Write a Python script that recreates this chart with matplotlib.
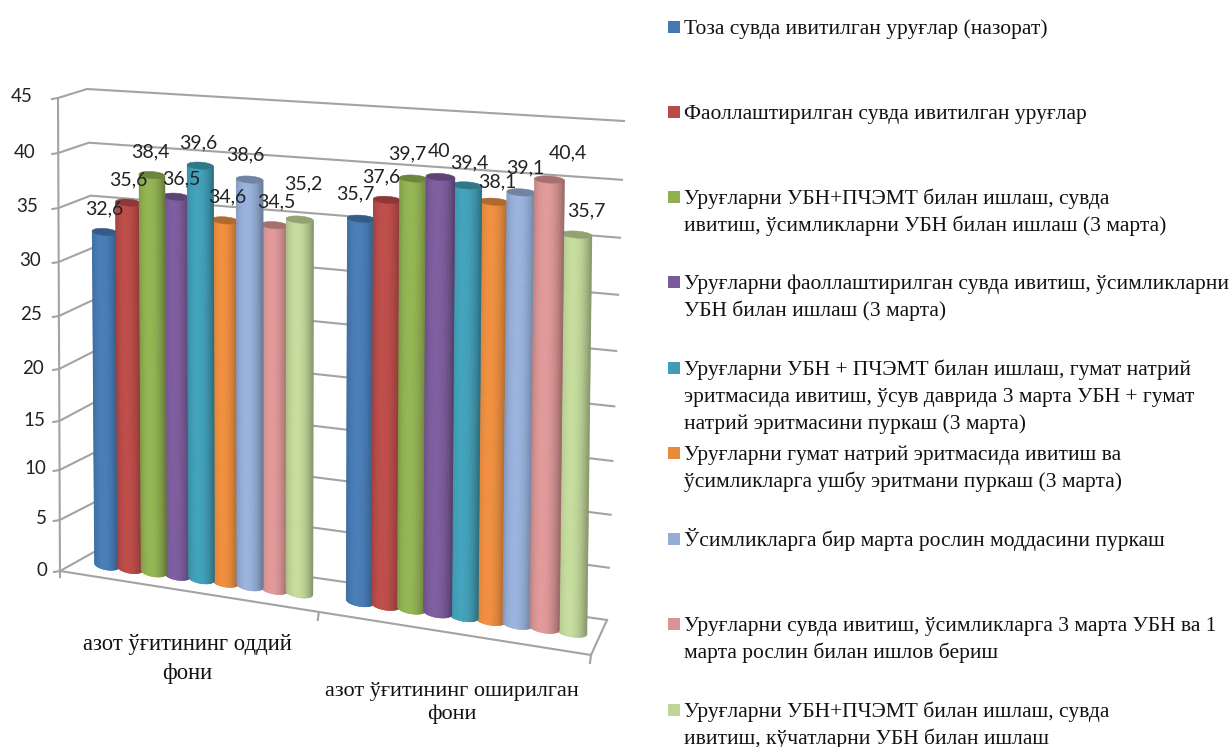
import numpy as np
import matplotlib
matplotlib.use("Agg")
import matplotlib.pyplot as plt
from matplotlib.collections import PolyCollection
from matplotlib.colors import to_rgb
from matplotlib.patches import Polygon, Rectangle

# ---- data ----
group_labels = ["азот ўғитининг оддий\nфони", "азот ўғитининг оширилган\nфони"]
group1 = [32.6, 35.6, 38.4, 36.5, 39.6, 34.6, 38.6, 34.5, 35.2]
group2 = [35.7, 37.6, 39.7, 40, 39.4, 38.1, 39.1, 40.4, 35.7]
y_ticks = [0, 5, 10, 15, 20, 25, 30, 35, 40, 45]
colors = ["#4679B2", "#B84A47", "#8FAF50", "#7A5A9A", "#3F9DB5",
          "#E88A3C", "#94ACD6", "#D99493", "#BFD597"]
series_names = [
    "Тоза сувда ивитилган уруғлар (назорат)",
    "Фаоллаштирилган сувда ивитилган уруғлар",
    "Уруғларни УБН+ПЧЭМТ билан ишлаш, сувда\nивитиш, ўсимликларни УБН билан ишлаш (3 марта)",
    "Уруғларни фаоллаштирилган сувда ивитиш, ўсимликларни\nУБН билан ишлаш (3 марта)",
    "Уруғларни УБН + ПЧЭМТ билан ишлаш, гумат натрий\nэритмасида ивитиш, ўсув даврида 3 марта УБН + гумат\nнатрий эритмасини пуркаш (3 марта)",
    "Уруғларни гумат натрий эритмасида ивитиш ва\nўсимликларга ушбу эритмани пуркаш (3 марта)",
    "Ўсимликларга бир марта рослин моддасини пуркаш",
    "Уруғларни сувда ивитиш, ўсимликларга 3 марта УБН ва 1\nмарта рослин билан ишлов бериш",
    "Уруғларни УБН+ПЧЭМТ билан ишлаш, сувда\nивитиш, кўчатларни УБН билан ишлаш",
]

# ---- layout, in figure pixels ----
legend_baselines = [34, 119, 204, 289, 375, 460, 546, 631, 717]
LEGEND_LINE = 27
front_axis_y = [571, 520, 470, 421, 369, 316, 262, 208, 153, 98]
tick_label_right = [47, 47, 46, 45, 44, 42, 41, 38, 36, 33]
label_shift = [(-1, -23), (0, -23), (-2, -23), (5, -18), (-2, -23), (2, -24), (-4, -25), (2, -23), (3, -36),
               (-6, -25), (-6, -23), (-7, -25), (-1, -25), (2, -23), (3, -20), (4, -25), (18, -27), (10, -24)]
GROUP_GAP = 2.4
BAR_RADIUS = 0.54
GREY = "#A3A3A3"
SERIF = "Liberation Serif"


def homography(src, dst):
    # plane-to-picture mapping through four reference corners
    rows, rhs = [], []
    for (a, b), (x, y) in zip(src, dst):
        rows.append([a, b, 1, 0, 0, 0, -a * x, -b * x])
        rows.append([0, 0, 0, a, b, 1, -a * y, -b * y])
        rhs += [x, y]
    h = np.linalg.solve(np.array(rows, float), np.array(rhs, float))
    m = np.append(h, 1).reshape(3, 3)

    def project(a, b):
        px, py, w = m @ np.array([a, b, 1.0])
        return px / w, py / w
    return project


back_wall = homography([(0, 0), (1, 0), (1, 45), (0, 45)], [(103, 547), (607, 620), (624, 121), (87, 89)])
floor = homography([(0, 0), (1, 0), (1, 1), (0, 1)], [(60, 571), (591, 655), (607, 620), (103, 547)])

last_u = 8 + GROUP_GAP + 8
bar_plane = homography([(0, 0), (last_u, 0), (last_u, 45), (0, 45)], [(107, 565), (572, 632), (578, 129), (104, 103)])


def shade(color, t):
    # brighter left of the middle, darker toward both edges of the cylinder
    base = np.array(to_rgb(color))
    k = 1.04 - 0.34 * ((t + 0.2) / 1.2) ** 2
    return tuple(np.clip(base * k, 0, 1))


def draw_cylinder(ax, u, value, color, zorder):
    ts = np.linspace(-1, 1, 41)
    quads, fills = [], []
    for t0, t1 in zip(ts[:-1], ts[1:]):
        x0b, y0b = bar_plane(u + BAR_RADIUS * t0, 0)
        x1b, y1b = bar_plane(u + BAR_RADIUS * t1, 0)
        x0t, y0t = bar_plane(u + BAR_RADIUS * t0, value)
        x1t, y1t = bar_plane(u + BAR_RADIUS * t1, value)
        quads.append([(x0b, y0b + 5 * np.sqrt(1 - t0 ** 2)), (x1b, y1b + 5 * np.sqrt(1 - t1 ** 2)),
                      (x1t, y1t + 3.5 * np.sqrt(1 - t1 ** 2)), (x0t, y0t + 3.5 * np.sqrt(1 - t0 ** 2))])
        fills.append(shade(color, (t0 + t1) / 2))
    ax.add_collection(PolyCollection(quads, facecolors=fills, edgecolors=fills, linewidths=0.4, zorder=zorder))

    # darker cap on top of the body
    theta = np.linspace(0, 2 * np.pi, 50)
    cap = []
    for th in theta:
        x, y = bar_plane(u + BAR_RADIUS * np.cos(th), value)
        cap.append((x, y + 3.5 * np.sin(th)))
    top_color = tuple(np.array(to_rgb(color)) * 0.76)
    ax.add_patch(Polygon(cap, closed=True, facecolor=top_color, edgecolor=top_color, linewidth=0.4, zorder=zorder + 0.1))


def draw_walls(ax):
    for v, y0, right in zip(y_ticks, front_axis_y, tick_label_right):
        x0 = 58 + 2 * (45 - v) / 45
        x1, y1 = back_wall(0, v)
        x2, y2 = back_wall(1, v)
        ax.plot([x0 - 6, x0, x1, x2], [y0 + 1, y0, y1, y2], color=GREY, lw=1.5, zorder=1, solid_joinstyle="round")
        ax.text(right, y0 - 1, str(v), ha="right", va="center", fontsize=13.5, family="Lato", color="#222222")
    # front vertical axis
    ax.plot([60, 58], [front_axis_y[0] + 6, front_axis_y[-1]], color=GREY, lw=1.5, zorder=1)
    # floor outline and its ticks
    corners = [floor(0, 0), floor(1, 0), floor(1, 1), floor(0, 1)]
    xs, ys = zip(*corners)
    ax.plot(xs[:3], ys[:3], color=GREY, lw=1.5, zorder=1)
    for a in [0.54, 1.0]:
        x, y = floor(a, 0)
        ax.plot([x, x - 1], [y, y + 8], color=GREY, lw=1.5, zorder=1)


fig = plt.figure(figsize=(12.29, 7.47), dpi=100)
ax = fig.add_axes([0, 0, 1, 1])
ax.set_xlim(0, 1229)
ax.set_ylim(747, 0)
ax.axis("off")

draw_walls(ax)

# taller cylinders sit over their neighbours
all_values = group1 + group2
positions = [float(i) for i in range(9)] + [8 + GROUP_GAP + i for i in range(9)]
bars = [(positions[i], all_values[i], colors[i % 9]) for i in range(18)]
for rank, (u, value, color) in enumerate(sorted(bars, key=lambda b: b[1])):
    draw_cylinder(ax, u, value, color, 3 + rank)

for i, (u, value, color) in enumerate(bars):
    x, y = bar_plane(u, value)
    dx, dy = label_shift[i]
    label = f"{value:g}".replace(".", ",")
    ax.text(x + dx, y + dy, label, ha="center", va="center", fontsize=14, family="Lato", color="#222222", zorder=40)

ax.text(187, 659, group_labels[0], ha="center", va="center", fontsize=16.3, family=SERIF,
        color="#111111", linespacing=1.5)
ax.text(452, 703, group_labels[1], ha="center", va="center", fontsize=16, family=SERIF,
        color="#111111", linespacing=1.3)

# hand-placed legend column, one text per line so the baselines stay put
for name, color, base in zip(series_names, colors, legend_baselines):
    ax.add_patch(Rectangle((668, base - 13), 12, 12, facecolor=color, edgecolor="none"))
    for k, line in enumerate(name.split("\n")):
        ax.text(684, base + k * LEGEND_LINE, line, ha="left", va="baseline", fontsize=15.5,
                family=SERIF, color="#111111")

fig.savefig("out.png", dpi=100)
